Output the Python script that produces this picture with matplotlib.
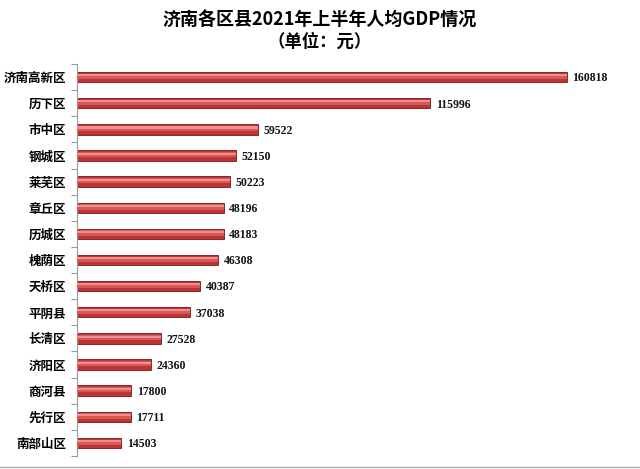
import matplotlib
matplotlib.use("Agg")
import matplotlib.pyplot as plt
from matplotlib.lines import Line2D
import numpy as np

plt.rcParams['font.family'] = ['Noto Sans CJK SC', 'DejaVu Sans']

categories = ["济南高新区", "历下区", "市中区", "钢城区", "莱芜区", "章丘区", "历城区", "槐荫区",
              "天桥区", "平阴县", "长清区", "济阳区", "商河县", "先行区", "南部山区"]
values = [160818, 115996, 59522, 52150, 50223, 48196, 48183, 46308,
          40387, 37038, 27528, 24360, 17800, 17711, 14503]
title_line1 = "济南各区县2021年上半年人均GDP情况"
title_line2 = "（单位：元）"

fig = plt.figure(figsize=(6.4, 4.69), dpi=100)
ax = fig.add_axes([77/640, 13/469, 548/640, 392/469])

y = np.arange(len(categories))
h = 0.40
# base bar (dark edge)
ax.barh(y, values, height=h, color='#bd3434', edgecolor='#7a1515', linewidth=0.6, zorder=2)
# lighter band for 3D look
ax.barh(y - 0.03, values, height=h * 0.5, color='#d85858', linewidth=0, zorder=3)
ax.barh(y - 0.07, values, height=h * 0.2, color='#ee9090', linewidth=0, zorder=4)

for yi, v in zip(y, values):
    ax.text(v + 1800, yi + 0.05, f"{v}", va='center', ha='left', fontsize=8.5,
            fontweight='bold', family=['Liberation Serif', 'DejaVu Serif'], color='#111111')

ax.set_xlim(0, 180000)
ax.set_ylim(len(categories) - 0.5, -0.5)
ax.set_yticks(y)
ax.set_yticklabels(categories, fontsize=9, fontweight='bold')
ax.tick_params(axis='y', which='major', length=0, pad=8)
ax.set_yticks(np.arange(-0.5, len(categories), 1), minor=True)
ax.tick_params(axis='y', which='minor', length=4, color='#999999', width=0.8)
ax.set_xticks([])
for s in ['top', 'right', 'bottom']:
    ax.spines[s].set_visible(False)
ax.spines['left'].set_color('#999999')
ax.spines['left'].set_linewidth(0.8)

fig.text(0.5, 1 - 20/469, title_line1, ha='center', va='center', fontsize=13, fontweight='bold')
fig.text(0.5, 1 - 42/469, title_line2, ha='center', va='center', fontsize=12.5, fontweight='bold')

fig.add_artist(Line2D([0, 1], [2/469, 2/469], color='#aaaaaa', linewidth=1, transform=fig.transFigure))

fig.savefig("out.png", dpi=100)
